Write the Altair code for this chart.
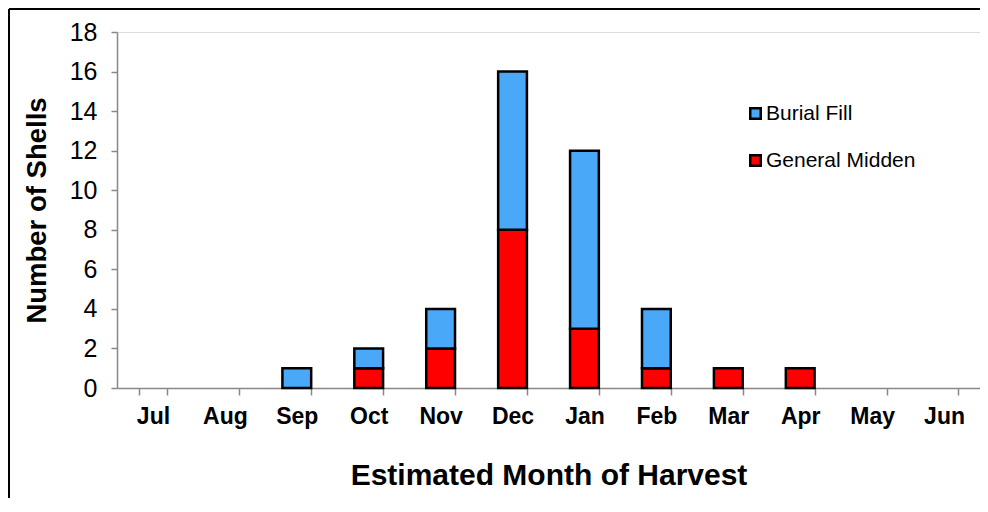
import altair as alt
import pandas as pd

months = ["Jul", "Aug", "Sep", "Oct", "Nov", "Dec", "Jan", "Feb", "Mar", "Apr", "May", "Jun"]
general_midden = [0, 0, 0, 1, 2, 8, 3, 1, 1, 1, 0, 0]
burial_fill = [0, 0, 1, 1, 2, 8, 9, 3, 0, 0, 0, 0]
series = ["Burial Fill", "General Midden"]
colors = ["#4AA8F8", "#FF0000"]
y_ticks = [0, 2, 4, 6, 8, 10, 12, 14, 16, 18]

rows = []
for m, g, b in zip(months, general_midden, burial_fill):
    if g > 0:
        rows.append({"month": m, "series": "General Midden", "count": g, "ord": 0})
    if b > 0:
        rows.append({"month": m, "series": "Burial Fill", "count": b, "ord": 1})
df = pd.DataFrame(rows)

FONT = "Liberation Sans"

bars = alt.Chart(df).mark_bar(stroke="black", strokeWidth=2.5).encode(
    x=alt.X("month:N", sort=months, scale=alt.Scale(domain=months, paddingInner=0.6, paddingOuter=0.3),
            axis=alt.Axis(title="Estimated Month of Harvest", labelAngle=0, tickBand="extent",
                          labelFontWeight="bold", labelFontSize=23, labelPadding=10,
                          titleFontSize=30, titleFontWeight="bold", titlePadding=32,
                          domainColor="#888888", tickColor="#888888", tickSize=7, tickWidth=1.5,
                          domainWidth=1.5, labelColor="black", titleColor="black")),
    y=alt.Y("count:Q", stack="zero", scale=alt.Scale(domain=[0, 18]),
            axis=alt.Axis(title="Number of Shells", values=y_ticks, grid=False,
                          labelFontSize=25, labelPadding=14, titleFontSize=27.5, titleFontWeight="bold",
                          titlePadding=18, domainColor="#888888", tickColor="#888888", tickSize=6,
                          tickWidth=1.5, domainWidth=1.5, labelColor="black", titleColor="black")),
    color=alt.Color("series:N", scale=alt.Scale(domain=series, range=colors),
                    legend=alt.Legend(title=None, orient="none", legendX=628, legendY=71,
                                      symbolType="square", symbolSize=110, symbolStrokeColor="black",
                                      symbolStrokeWidth=2.5, labelFontSize=21, labelColor="black",
                                      rowPadding=25, labelOffset=0)),
    order=alt.Order("ord:Q"),
)

frame_data = alt.Data(values=[{"a": 1}])
frame_top = alt.Chart(frame_data).mark_rule(stroke="black", strokeWidth=2, clip=False).encode(
    x=alt.value(-108), x2=alt.value(1100), y=alt.value(-23)
)
frame_left = alt.Chart(frame_data).mark_rule(stroke="black", strokeWidth=2, clip=False).encode(
    x=alt.value(-108), y=alt.value(-23), y2=alt.value(700)
)

chart = alt.layer(frame_top, frame_left, bars).properties(
    width=863, height=356,
    padding={"left": 109, "top": 24, "right": 0, "bottom": 110},
    autosize=alt.AutoSizeParams(type="none"),
).configure_view(stroke=None).configure(font=FONT)

chart.save("out.html", embed_options={"renderer": "svg", "actions": False})
